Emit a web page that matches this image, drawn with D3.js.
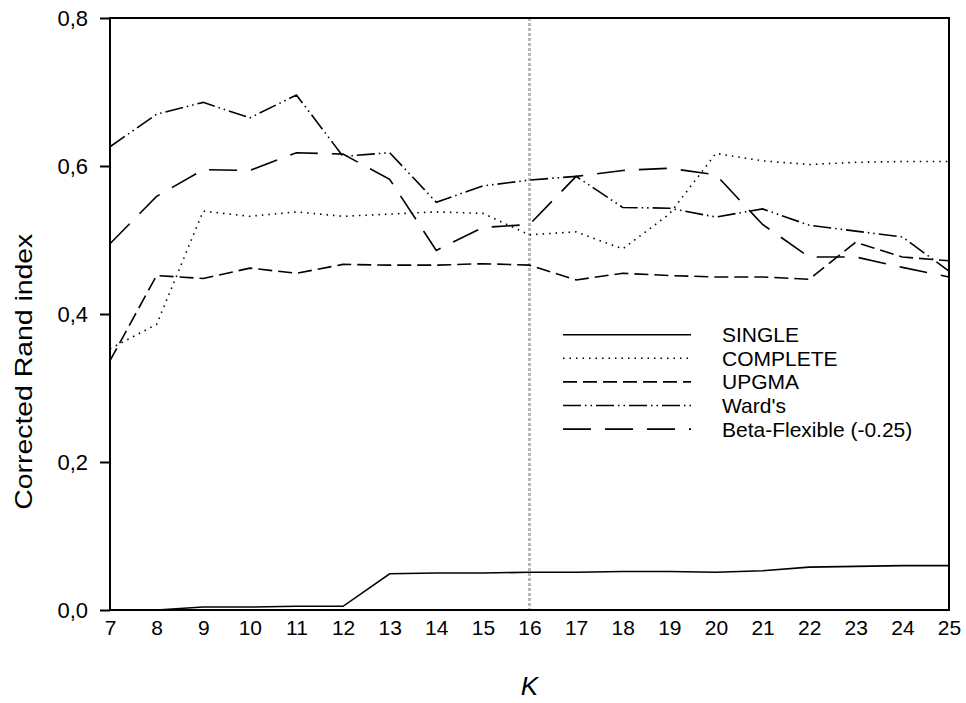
<!DOCTYPE html>
<html>
<head>
<meta charset="utf-8">
<script src="https://cdn.jsdelivr.net/npm/d3@7"></script>
<style>
  body { margin: 0; background: #fff; }
  svg text { font-family: "Liberation Sans", Arial, sans-serif; fill: #000; }
</style>
</head>
<body>
<script>
"use strict";

// K values on the x axis
const kValues = [7, 8, 9, 10, 11, 12, 13, 14, 15, 16, 17, 18, 19, 20, 21, 22, 23, 24, 25];

const single   = [0.000, 0.000, 0.004, 0.004, 0.005, 0.005, 0.049, 0.050, 0.050, 0.051, 0.051, 0.052, 0.052, 0.051, 0.053, 0.058, 0.059, 0.060, 0.060];
const complete = [0.353, 0.386, 0.539, 0.532, 0.538, 0.532, 0.535, 0.538, 0.536, 0.507, 0.511, 0.488, 0.535, 0.617, 0.607, 0.602, 0.605, 0.606, 0.606];
const upgma    = [0.337, 0.452, 0.448, 0.462, 0.455, 0.467, 0.466, 0.466, 0.468, 0.466, 0.446, 0.455, 0.452, 0.450, 0.450, 0.447, 0.497, 0.477, 0.472];
const wards    = [0.626, 0.670, 0.686, 0.665, 0.696, 0.613, 0.618, 0.551, 0.573, 0.581, 0.586, 0.544, 0.543, 0.531, 0.542, 0.520, 0.512, 0.504, 0.458];
const betaFlex = [0.495, 0.559, 0.595, 0.594, 0.618, 0.616, 0.582, 0.486, 0.517, 0.521, 0.586, 0.594, 0.597, 0.588, 0.521, 0.477, 0.477, 0.463, 0.450];

const seriesNames = ["SINGLE", "COMPLETE", "UPGMA", "Ward's", "Beta-Flexible (-0.25)"];
const seriesData  = [single, complete, upgma, wards, betaFlex];
const dashes      = ["none", "1.5,5", "14,6", "18,4,1.5,4,1.5,4", "28,14"];

const yTicks = [0, 0.2, 0.4, 0.6, 0.8];
const refK = 16;

const width = 966, height = 703;
const margin = { top: 18, right: 17, bottom: 93, left: 110 };

const svg = d3.select("body").append("svg")
    .attr("width", width)
    .attr("height", height);

const x = d3.scaleLinear()
    .domain([7, 25])
    .range([margin.left, width - margin.right]);
const y = d3.scaleLinear()
    .domain([0, 0.8])
    .range([height - margin.bottom, margin.top]);

// reference line at K = 16
svg.append("line")
    .attr("x1", x(refK)).attr("x2", x(refK))
    .attr("y1", y(0.8)).attr("y2", y(0))
    .attr("stroke", "#b8b8b8")
    .attr("stroke-width", 3)
    .attr("stroke-dasharray", "3,2");

const line = d3.line()
    .x((d, i) => x(kValues[i]))
    .y(d => y(d));

svg.selectAll("path.series")
    .data(seriesData)
    .join("path")
    .attr("class", "series")
    .attr("d", line)
    .attr("fill", "none")
    .attr("stroke", "#000")
    .attr("stroke-width", 1.6)
    .attr("stroke-dasharray", (d, i) => dashes[i]);

// frame
svg.append("rect")
    .attr("x", x(7)).attr("y", y(0.8))
    .attr("width", x(25) - x(7))
    .attr("height", y(0) - y(0.8))
    .attr("fill", "none")
    .attr("stroke", "#000")
    .attr("stroke-width", 2);

// y axis
const yAxis = svg.append("g")
    .attr("transform", `translate(${x(7)},0)`)
    .call(d3.axisLeft(y)
        .tickValues(yTicks)
        .tickSize(10)
        .tickPadding(12)
        .tickFormat(d => d3.format(".1f")(d).replace(".", ",")));
yAxis.select(".domain").remove();
yAxis.selectAll(".tick line").attr("stroke-width", 2);
yAxis.selectAll(".tick text").attr("font-size", 22).style("font-family", "Liberation Sans, Arial, sans-serif");

// x axis
const xAxis = svg.append("g")
    .attr("transform", `translate(0,${y(0)})`)
    .call(d3.axisBottom(x)
        .tickValues(kValues)
        .tickSize(0)
        .tickPadding(10)
        .tickFormat(d3.format("d")));
xAxis.select(".domain").remove();
xAxis.selectAll(".tick text").attr("font-size", 21).style("font-family", "Liberation Sans, Arial, sans-serif");

// axis titles
svg.append("text")
    .attr("transform", `translate(32,${y(0.322)}) rotate(-90)`)
    .attr("text-anchor", "middle")
    .attr("font-size", 24)
    .attr("textLength", 276)
    .attr("lengthAdjust", "spacingAndGlyphs")
    .text("Corrected Rand index");

svg.append("text")
    .attr("x", (x(7) + x(25)) / 2)
    .attr("y", 695)
    .attr("text-anchor", "middle")
    .attr("font-size", 26)
    .attr("font-style", "italic")
    .text("K");

// legend
const legend = svg.append("g")
    .attr("transform", `translate(563,${y(0.372)})`);
const rows = legend.selectAll("g")
    .data(seriesNames)
    .join("g")
    .attr("transform", (d, i) => `translate(0,${i * 23.6})`);
rows.append("line")
    .attr("x1", 0).attr("x2", 128)
    .attr("stroke", "#000")
    .attr("stroke-width", 1.6)
    .attr("stroke-dasharray", (d, i) => dashes[i]);
rows.append("text")
    .attr("x", 159)
    .attr("dy", "0.36em")
    .attr("font-size", 21)
    .text(d => d);
</script>
</body>
</html>
